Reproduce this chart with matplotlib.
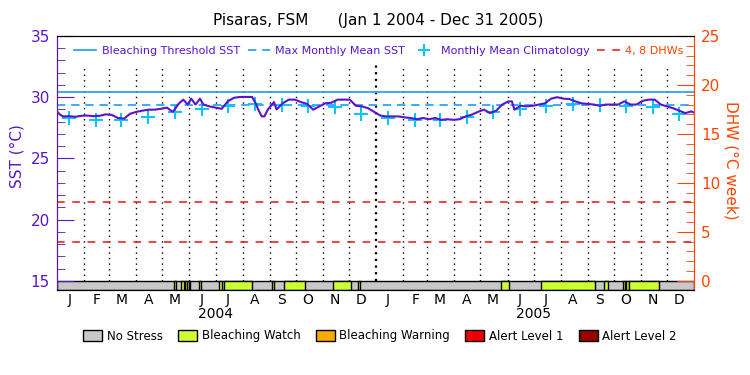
import numpy as np
import matplotlib
matplotlib.use('Agg')
import matplotlib.pyplot as plt
import matplotlib.dates as mdates
from matplotlib.lines import Line2D
from matplotlib.patches import Patch
from matplotlib.ticker import MultipleLocator

# ---- data ----
start = np.datetime64('2004-01-01')

# SST trace: day offset from Jan 1 2004, value in degC
sst_day = [0, 3, 7, 14, 21, 28, 35, 42, 49, 56, 63, 70, 77, 84, 91, 98, 105, 112,
           119, 126, 133, 140, 145, 150, 154, 159, 164, 168, 175, 182, 189, 196,
           203, 210, 217, 224, 228, 231, 235, 238, 242, 245, 249, 252, 259, 266,
           273, 280, 287, 294, 301, 308, 315, 322, 329, 336, 343, 350, 357, 364,
           371, 378, 385, 392, 399, 406, 413, 420, 427, 434, 441, 448, 455, 462,
           469, 476, 483, 490, 497, 504, 511, 518, 522, 525, 532, 539, 546, 553,
           560, 567, 574, 581, 588, 595, 602, 609, 616, 623, 630, 637, 644, 651,
           658, 665, 672, 679, 686, 693, 700, 707, 714, 721, 728, 730]
sst_val = [28.84, 28.6, 28.43, 28.45, 28.4, 28.48, 28.5, 28.45, 28.48, 28.6, 28.55,
           28.3, 28.25, 28.65, 28.8, 28.9, 28.98, 28.98, 29.05, 29.15, 28.8, 29.5,
           29.8, 29.4, 29.88, 29.4, 29.88, 29.4, 29.25, 29.15, 29.05, 29.66, 29.95,
           30.02, 30.02, 30.02, 29.5, 28.98, 28.43, 28.43, 29.0, 29.25, 29.6, 29.0,
           29.5, 29.8, 29.8, 29.6, 29.45, 28.98, 29.25, 29.5, 29.55, 29.8, 29.8,
           29.8, 29.3, 29.25, 29.1, 28.8, 28.5, 28.43, 28.43, 28.43, 28.35, 28.3,
           28.2, 28.3, 28.2, 28.3, 28.15, 28.2, 28.15, 28.2, 28.43, 28.57, 28.8,
           28.98, 28.7, 28.9, 29.4, 29.66, 29.66, 28.98, 29.3, 29.25, 29.3, 29.4,
           29.5, 29.88, 30.0, 29.88, 29.85, 29.66, 29.5, 29.45, 29.4, 29.3, 29.4,
           29.4, 29.4, 29.66, 29.4, 29.4, 29.7, 29.8, 29.8, 29.4, 29.25, 29.1,
           28.9, 28.7, 28.84, 28.77]

clim_month = [28.3, 28.15, 28.15, 28.4, 28.8, 29.0, 29.28, 29.42, 29.35, 29.28, 29.18, 28.6]
threshold = 30.4
mmm = 29.4
dhw_levels = [4, 8]

# bleaching watch periods (start, end)
watch_start = ['2004-05-14', '2004-05-22', '2004-05-27', '2004-05-31', '2004-06-12',
               '2004-07-05', '2004-07-11', '2004-09-04', '2004-09-18', '2004-11-13',
               '2004-12-11', '2005-05-24', '2005-07-10', '2005-09-20', '2005-10-11',
               '2005-10-15', '2005-10-19']
watch_end = ['2004-05-17', '2004-05-26', '2004-05-29', '2004-06-02', '2004-06-14',
             '2004-07-08', '2004-08-12', '2004-09-06', '2004-10-12', '2004-12-03',
             '2004-12-14', '2005-06-03', '2005-09-09', '2005-09-24', '2005-10-14',
             '2005-10-18', '2005-11-22']

month_letters = ['J', 'F', 'M', 'A', 'M', 'J', 'J', 'A', 'S', 'O', 'N', 'D']
years = [2004, 2005]

stress_labels = ['No Stress', 'Bleaching Watch', 'Bleaching Warning', 'Alert Level 1', 'Alert Level 2']
stress_colors = ['#c8c8c8', '#ccff33', '#ffaa00', '#ee0000', '#990000']

# ---- styles ----
purple = '#5a14cc'
orange = '#ff4400'
blue = '#1a9cff'
cyan = '#00c4ff'

fig = plt.figure(figsize=(7.5, 3.75), dpi=100)
ax = fig.add_axes([0.076, 0.2267, 0.8493, 0.6773])
ax2 = ax.twinx()

x0 = mdates.date2num(start)
xend = mdates.date2num(np.datetime64('2006-01-01'))
sst_x = [x0 + d for d in sst_day]

ybot = 14.25
ax.set_xlim(x0, xend)
ax.set_ylim(ybot, 35)
ax2.set_ylim((ybot - 15) * 1.25, 25)

# month dotted lines
month_starts = np.arange(np.datetime64('2004-02'), np.datetime64('2006-01'), dtype='datetime64[M]')
for m in month_starts:
    mx = mdates.date2num(m.astype('datetime64[D]'))
    if str(m) == '2005-01':
        ax.vlines(mx, 15, 32.65, colors='k', linestyles=(0, (1, 2)), lw=1.6)
    else:
        ax.vlines(mx, 15, 32.65, colors='k', linestyles=(0, (1, 3)), lw=1)

# stress bar
ax.broken_barh([(x0, xend - x0)], (ybot, 15 - ybot), facecolors=stress_colors[0],
               edgecolors='k', lw=1)
bars = [(mdates.date2num(np.datetime64(s)), mdates.date2num(np.datetime64(e)) - mdates.date2num(np.datetime64(s)))
        for s, e in zip(watch_start, watch_end)]
ax.broken_barh(bars, (ybot, 15 - ybot), facecolors=stress_colors[1], edgecolors='k', lw=1)

# reference lines
ax.axhline(threshold, color=blue, lw=1.2)
ax.axhline(mmm, color=blue, lw=1.2, dashes=(5, 3.5))
for lv in dhw_levels:
    ax2.axhline(lv, color='#ee1111', lw=1.1, dashes=(5, 5))

# climatology crosses
clim_x = []
clim_y = []
for yr in years:
    for i, v in enumerate(clim_month):
        clim_x.append(mdates.date2num(np.datetime64('%d-%02d-15' % (yr, i + 1))))
        clim_y.append(v)
ax.plot(clim_x, clim_y, ls='none', marker='+', ms=10, mew=1.4, color=cyan)

# SST
ax.plot(sst_x, sst_val, color=purple, lw=1.5)

# axes styling
ax.spines['left'].set_color(purple)
ax.spines['right'].set_color(orange)
ax2.spines['right'].set_color(orange)
ax2.spines['left'].set_color(purple)
ax.yaxis.set_major_locator(MultipleLocator(5))
ax.yaxis.set_minor_locator(MultipleLocator(1))
ax.tick_params(axis='y', which='major', direction='in', length=12, color=purple,
               labelcolor=purple, labelsize=11, pad=5)
ax.tick_params(axis='y', which='minor', direction='in', length=6, color=purple)
ax2.yaxis.set_major_locator(MultipleLocator(5))
ax2.yaxis.set_minor_locator(MultipleLocator(1))
ax2.tick_params(axis='y', which='major', direction='in', length=12, color=orange,
                labelcolor=orange, labelsize=11, pad=5)
ax2.tick_params(axis='y', which='minor', direction='in', length=6, color=orange)

mid = []
labs = []
for yr in years:
    for i in range(12):
        mid.append(mdates.date2num(np.datetime64('%d-%02d-15' % (yr, i + 1))))
        labs.append(month_letters[i])
ax.set_xticks(mid)
ax.set_xticklabels(labs)
ax.tick_params(axis='x', length=0, labelsize=10, pad=2)
for yr in years:
    ax.text(mdates.date2num(np.datetime64('%d-07-01' % yr)), -0.095, str(yr),
            transform=ax.get_xaxis_transform(), ha='center', va='center', fontsize=10)

fig.text(0.504, 1 - 20 / 375, 'Pisaras, FSM      (Jan 1 2004 - Dec 31 2005)',
         ha='center', va='center', fontsize=11)
fig.text(17 / 750, 1 - 156 / 375, 'SST (°C)', rotation=90, ha='center', va='center',
         color=purple, fontsize=11)
fig.text(731 / 750, 1 - 160 / 375, 'DHW (°C week)', rotation=270, ha='center', va='center',
         color=orange, fontsize=11)

# inner legend
h = [Line2D([], [], color=blue, lw=1.2),
     Line2D([], [], color=blue, lw=1.2, dashes=(5, 3.5)),
     Line2D([], [], color=cyan, ls='none', marker='+', ms=9, mew=1.4),
     Line2D([], [], color='#ee1111', lw=1.1, dashes=(5, 5))]
ax2.legend(h, ['Bleaching Threshold SST', 'Max Monthly Mean SST', 'Monthly Mean Climatology', '4, 8 DHWs'],
           loc='upper center', bbox_to_anchor=(0.505, 1.0), ncol=4, frameon=False, fontsize=8,
           labelcolor=[purple, purple, purple, orange], handlelength=2.0,
           columnspacing=0.7, handletextpad=0.5)

# stress legend
ph = [Patch(facecolor=c, edgecolor='k', lw=1) for c in stress_colors]
fig.legend(ph, stress_labels, loc='center', bbox_to_anchor=(380 / 750, 1 - 336 / 375), ncol=5,
           frameon=False, fontsize=8.5, handlelength=1.6, handleheight=1.1,
           columnspacing=1.3, handletextpad=0.4)

fig.savefig('out.png', dpi=100)
